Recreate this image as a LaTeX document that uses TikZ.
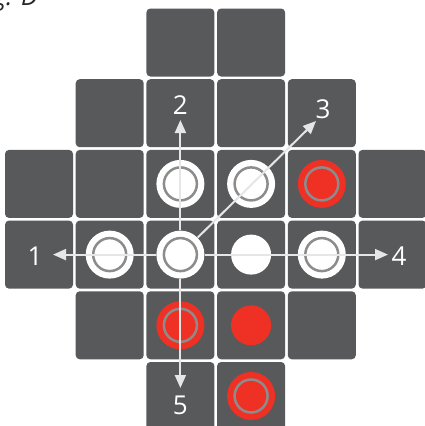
\documentclass[tikz,border=0pt]{standalone}
\usepackage{fontspec}
\setmainfont{Open Sans}
\usetikzlibrary{arrows.meta}
\definecolor{gris}{HTML}{58595B}
\definecolor{rojo}{HTML}{EE3124}
\definecolor{aro}{HTML}{8C8C8C}
\definecolor{trazo}{HTML}{E6E6E6}

\begin{document}
\begin{tikzpicture}[x=1pt,y=-1pt,
  casilla/.style={fill=gris, rounded corners=4pt},
  ficha/.style={circle, inner sep=0pt, minimum size=48pt,
    path picture={\draw[aro, line width=2.5pt] (path picture bounding box.center) circle (16.5pt);}},
  blanca/.style={ficha, fill=white},
  roja/.style={ficha, fill=rojo},
  disco/.style={circle, inner sep=0pt, minimum size=40pt},
  flecha/.style={trazo, line width=2pt, -{Triangle[length=13pt,width=11pt]}},
  numero/.style={text=white, font=\fontsize{26}{30}\selectfont}]
\useasboundingbox (0,0) rectangle (425,426);

% Titulo (recortado por el borde)
\node [anchor=base east, inner xsep=0pt, font=\itshape\fontsize{25}{30}\selectfont, text=black!85] (fig) at (38,5.5) {Fig. D};

% Tablero
\foreach \f/\cols in {0/{2,3},1/{1,2,3,4},2/{0,...,5},3/{0,...,5},4/{1,2,3,4},5/{2,3}}
  \foreach \c in \cols
    \fill[casilla] ({39+70.7*\c-34},{42.5+70.7*\f-34}) rectangle +(68,68);

% Fichas
\node[blanca] (b22) at (180.4,183.9) {};
\node[blanca] (b32) at (251.1,183.9) {};
\node[roja] (r42) at (321.8,183.9) {};
\node[blanca] (b13) at (109.7,254.6) {};
\node[blanca] (o) at (180.4,254.6) {};
\node[disco, fill=white] (d33) at (251.1,254.6) {};
\node[blanca] (b43) at (321.8,254.6) {};
\node[roja] (r24) at (180.4,325.3) {};
\node[disco, fill=rojo] (d34) at (251.1,325.3) {};
\node[roja] (r35) at (251.1,396) {};

% Direcciones
\coordinate (p1) at (53,254.6);
\coordinate (p2) at (180.4,120);
\coordinate (p3) at (316,121);
\coordinate (p4) at (388,254.6);
\coordinate (p5) at (180.4,388);
\foreach \i in {1,...,5}
  \draw[flecha] (o) -- (p\i);

% Numeros
\node[numero] (n1) at (35,256) {1};
\node[numero] (n2) at (180.4,105) {2};
\node[numero] (n3) at (323,109) {3};
\node[numero] (n4) at (399,256) {4};
\node[numero] (n5) at (180.4,405) {5};
\end{tikzpicture}
\end{document}
